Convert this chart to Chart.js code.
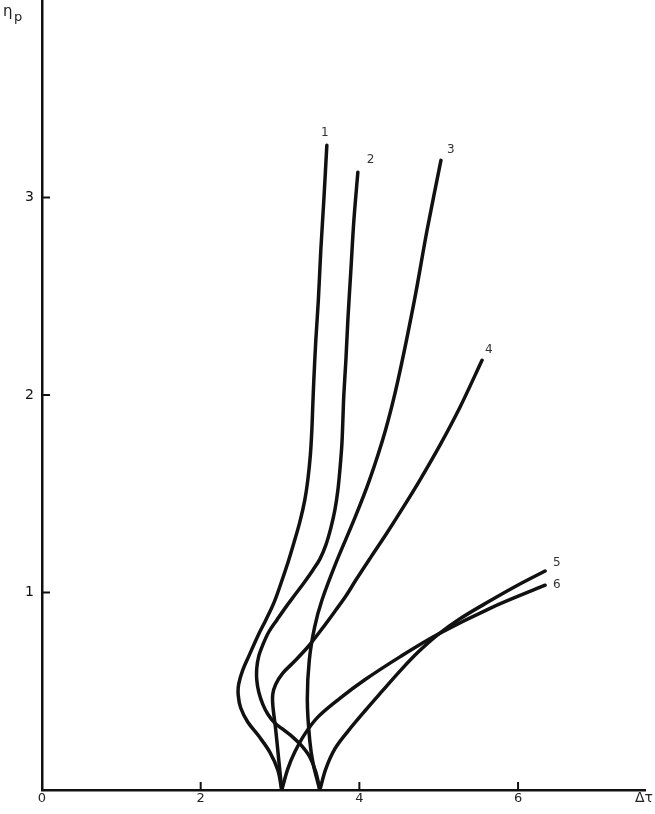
<!DOCTYPE html>
<html>
<head>
<meta charset="utf-8">
<script src="https://cdn.jsdelivr.net/npm/chart.js@4.4.1/dist/chart.umd.min.js"></script>
<style>
    body { margin: 0; background: #fff; }
    canvas { display: block; }
</style>
</head>
<body>
<canvas id="etaChart" width="655" height="814"></canvas>
<script>
// Kurven 1-6, jeweils von der Spitze auf der Achse nach oben
const curveLabels = ['1', '2', '3', '4', '5', '6'];

const c1x = [3.022, 2.972, 2.871, 2.732, 2.593, 2.505, 2.473, 2.479, 2.530, 2.618, 2.719, 2.820, 2.921, 3.009,
             3.098, 3.174, 3.249, 3.312, 3.350, 3.382, 3.401, 3.413, 3.426, 3.451, 3.483, 3.514, 3.552, 3.590];
const c1y = [0, 0.101, 0.192, 0.273, 0.344, 0.415, 0.481, 0.536, 0.607, 0.688, 0.779, 0.860, 0.946, 1.043,
             1.149, 1.250, 1.356, 1.468, 1.569, 1.695, 1.822, 1.948, 2.075, 2.277, 2.480, 2.733, 2.986, 3.264];

const c2x = [3.502, 3.451, 3.375, 3.274, 3.161, 3.047, 2.934, 2.845, 2.782, 2.732, 2.707, 2.707, 2.732, 2.782,
             2.858, 2.959, 3.073, 3.186, 3.300, 3.413, 3.502, 3.577, 3.640, 3.691, 3.729, 3.754, 3.779, 3.792,
             3.804, 3.830, 3.855, 3.893, 3.931, 3.981];
const c2y = [0, 0.091, 0.167, 0.223, 0.268, 0.304, 0.339, 0.385, 0.435, 0.496, 0.557, 0.617, 0.678, 0.734,
             0.800, 0.860, 0.926, 0.987, 1.048, 1.113, 1.169, 1.240, 1.326, 1.417, 1.518, 1.619, 1.746, 1.872,
             1.999, 2.176, 2.379, 2.632, 2.885, 3.128];

const c3x = [3.502, 3.418, 3.374, 3.344, 3.369, 3.436, 3.529, 3.719, 3.931, 4.127, 4.329, 4.487, 4.694, 4.853, 5.028];
const c3y = [0, 0.132, 0.253, 0.455, 0.658, 0.825, 0.962, 1.164, 1.366, 1.569, 1.822, 2.075, 2.480, 2.834, 3.188];

const c4x = [3.022, 2.984, 2.946, 2.909, 2.909, 2.946, 3.035, 3.161, 3.350, 3.527, 3.703, 3.830, 3.956, 4.145,
             4.347, 4.562, 4.763, 5.016, 5.268, 5.546];
const c4y = [0, 0.152, 0.304, 0.430, 0.486, 0.536, 0.592, 0.643, 0.724, 0.815, 0.911, 0.982, 1.063, 1.179,
             1.301, 1.437, 1.569, 1.746, 1.938, 2.176];

const c5x = [3.502, 3.577, 3.691, 3.855, 4.069, 4.284, 4.511, 4.738, 4.978, 5.268, 5.647, 6.000, 6.341];
const c5y = [0, 0.107, 0.208, 0.297, 0.400, 0.499, 0.602, 0.697, 0.783, 0.867, 0.958, 1.038, 1.109];

const c6x = [3.022, 3.098, 3.186, 3.312, 3.476, 3.754, 4.069, 4.511, 4.978, 5.647, 6.341];
const c6y = [0, 0.107, 0.192, 0.283, 0.369, 0.464, 0.558, 0.674, 0.786, 0.920, 1.037];

const xTicks = [0, 2, 4, 6];
const yTicks = [1, 2, 3];

const allX = [c1x, c2x, c3x, c4x, c5x, c6x];
const allY = [c1y, c2y, c3y, c4y, c5y, c6y];

// Verschiebung der Kurvennummern gegenüber dem Kurvenende (px)
const labelOffset = [[-2, -12], [9, -12], [6, -10], [3, -10], [8, -8], [8, 0]];

const datasets = allX.map((xs, i) => ({
    label: curveLabels[i],
    data: xs.map((x, j) => ({ x: x, y: allY[i][j] })),
    showLine: true,
    borderColor: '#111',
    borderWidth: 3.5,
    pointRadius: 0,
    tension: 0.35,
    borderCapStyle: 'round',
    borderJoinStyle: 'round',
    fill: false
}));

const extras = {
    id: 'extras',
    afterDraw(chart) {
        const ctx = chart.ctx;
        const xs = chart.scales.x, ys = chart.scales.y;
        const area = chart.chartArea;
        ctx.save();
        // kurze Striche nach innen
        ctx.strokeStyle = '#111';
        ctx.lineWidth = 2;
        xTicks.filter(v => v > 0).forEach(v => {
            const px = xs.getPixelForValue(v);
            ctx.beginPath();
            ctx.moveTo(px, area.bottom);
            ctx.lineTo(px, area.bottom - 8);
            ctx.stroke();
        });
        yTicks.forEach(v => {
            const py = ys.getPixelForValue(v);
            ctx.beginPath();
            ctx.moveTo(area.left, py);
            ctx.lineTo(area.left + 8, py);
            ctx.stroke();
        });
        // Kurvennummern
        ctx.fillStyle = '#333';
        ctx.font = '12px "DejaVu Sans"';
        ctx.textBaseline = 'middle';
        chart.data.datasets.forEach((ds, i) => {
            const last = ds.data[ds.data.length - 1];
            const px = xs.getPixelForValue(last.x) + labelOffset[i][0];
            const py = ys.getPixelForValue(last.y) + labelOffset[i][1];
            ctx.textAlign = i === 0 ? 'center' : 'left';
            ctx.fillText(curveLabels[i], px, py);
        });
        // Achsenbezeichnungen
        ctx.fillStyle = '#222';
        ctx.textAlign = 'left';
        ctx.font = '15px "DejaVu Sans"';
        ctx.fillText('\u03b7', 3, 12);
        ctx.font = '13px "DejaVu Sans"';
        ctx.fillText('p', 14, 18);
        ctx.font = '14px "DejaVu Sans"';
        ctx.fillText('\u0394\u03c4', 635, 798);
        ctx.restore();
    }
};

new Chart(document.getElementById('etaChart').getContext('2d'), {
    type: 'scatter',
    data: { datasets: datasets },
    plugins: [extras],
    options: {
        responsive: false,
        animation: false,
        layout: { padding: { top: 0, right: 10, bottom: 0, left: 0 } },
        plugins: { legend: { display: false }, tooltip: { enabled: false } },
        scales: {
            x: {
                type: 'linear',
                min: 0,
                max: 7.6,
                afterBuildTicks: (scale) => { scale.ticks = xTicks.map(v => ({ value: v })); },
                afterFit: (scale) => { scale.height = 24; scale.paddingLeft = 0; scale.paddingRight = 0; },
                grid: { display: true, drawOnChartArea: false, drawTicks: false },
                border: { display: true, color: '#111', width: 2.5 },
                ticks: {
                    padding: 1,
                    color: '#222',
                    font: { family: 'DejaVu Sans', size: 13 },
                    maxRotation: 0,
                    autoSkip: false
                }
            },
            y: {
                type: 'linear',
                min: 0,
                max: 4,
                afterBuildTicks: (scale) => { scale.ticks = yTicks.map(v => ({ value: v })); },
                afterFit: (scale) => { scale.width = 42; scale.paddingTop = 0; scale.paddingBottom = 0; },
                grid: { display: true, drawOnChartArea: false, drawTicks: false },
                border: { display: true, color: '#111', width: 2.5 },
                ticks: {
                    padding: 8,
                    color: '#111',
                    font: { family: 'DejaVu Sans', size: 14 },
                    autoSkip: false
                }
            }
        }
    }
});
</script>
</body>
</html>
